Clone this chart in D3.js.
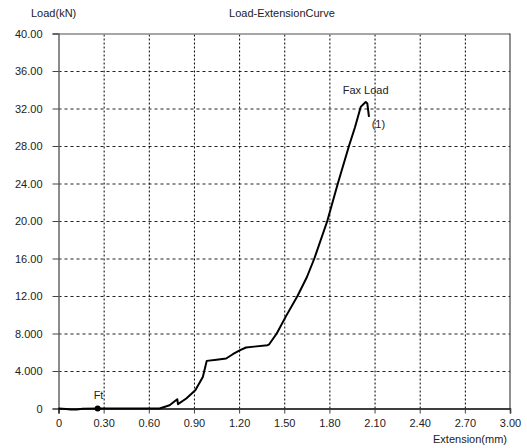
<!DOCTYPE html>
<html>
<head>
<meta charset="utf-8">
<script src="https://cdn.jsdelivr.net/npm/d3@7"></script>
<style>
  body { margin: 0; background: #fff; }
  svg text { font-family: "Liberation Sans", Arial, sans-serif; font-size: 11px; fill: #222; }
</style>
</head>
<body>
<svg id="chart" width="527" height="448"></svg>
<script>
// extension (mm) and load (kN)
const extension = [0, 0.05, 0.08, 0.12, 0.16, 0.26, 0.50, 0.672, 0.738, 0.789, 0.794, 0.849, 0.909, 0.959, 0.985,
  1.05, 1.114, 1.158, 1.207, 1.246, 1.30, 1.389, 1.40, 1.45, 1.51, 1.588, 1.65, 1.70, 1.786, 1.856,
  1.93, 1.97, 2.008, 2.041, 2.052, 2.063];
const load = [0, -0.05, -0.1, -0.1, -0.02, 0, 0, 0, 0.35, 0.99, 0.46, 1.07, 1.95, 3.37, 5.08,
  5.2, 5.33, 5.79, 6.22, 6.51, 6.6, 6.75, 6.85, 8.0, 9.8, 12.0, 14.0, 16.0, 20.0, 24.0,
  28.0, 30.0, 32.17, 32.7, 32.53, 31.1];
const xTicks = [0, 0.3, 0.6, 0.9, 1.2, 1.5, 1.8, 2.1, 2.4, 2.7, 3.0];
const xTickLabels = ['0', '0.30', '0.60', '0.90', '1.20', '1.50', '1.80', '2.10', '2.40', '2.70', '3.00'];
const yTicks = [0, 4, 8, 12, 16, 20, 24, 28, 32, 36, 40];
const yTickLabels = ['0', '4.000', '8.000', '12.00', '16.00', '20.00', '24.00', '28.00', '32.00', '36.00', '40.00'];
const ftPoint = { ext: 0.26, load: 0 };
const maxPoint = { ext: 2.041, load: 32.7 };

const svg = d3.select('#chart');
const margin = { top: 33.5, right: 17, bottom: 39.5, left: 58.5 };
const width = +svg.attr('width');
const height = +svg.attr('height');
const innerWidth = width - margin.left - margin.right;
const innerHeight = height - margin.top - margin.bottom;

const g = svg.append('g')
  .attr('transform', `translate(${margin.left},${margin.top})`);

const x = d3.scaleLinear().domain([0, 3]).range([0, innerWidth]);
const y = d3.scaleLinear().domain([0, 40]).range([innerHeight, 0]);

// grid lines (dashed) built from axes
const hGrid = g.append('g')
  .call(d3.axisLeft(y).tickValues(yTicks.slice(1, -1)).tickSize(-innerWidth).tickFormat(''));
hGrid.select('.domain').remove();
hGrid.selectAll('.tick line')
  .attr('stroke', '#222').attr('stroke-width', 1).attr('stroke-dasharray', '3,3');

const vGrid = g.append('g')
  .attr('transform', `translate(0,${innerHeight})`)
  .call(d3.axisBottom(x).tickValues(xTicks.slice(1, -1)).tickSize(-innerHeight).tickFormat(''));
vGrid.select('.domain').remove();
vGrid.selectAll('.tick line')
  .attr('stroke', '#000').attr('stroke-width', 1).attr('stroke-dasharray', '2,2');

// frame: top and right
g.append('path')
  .attr('d', `M0,0.5H${innerWidth}`)
  .attr('fill', 'none').attr('stroke', '#888').attr('stroke-width', 1.5);
g.append('path')
  .attr('d', `M${innerWidth},0V${innerHeight}`)
  .attr('fill', 'none').attr('stroke', '#222').attr('stroke-width', 1);

// axes
const yAxis = g.append('g')
  .call(d3.axisLeft(y).tickValues(yTicks).tickSize(6).tickPadding(10)
    .tickFormat((d, i) => yTickLabels[i]));
yAxis.select('.domain').attr('stroke', '#666').attr('stroke-width', 1.5);
yAxis.selectAll('.tick line').attr('stroke', '#444');

const xAxis = g.append('g')
  .attr('transform', `translate(0,${innerHeight})`)
  .call(d3.axisBottom(x).tickValues(xTicks).tickSize(5).tickPadding(6)
    .tickFormat((d, i) => xTickLabels[i]));
xAxis.select('.domain').attr('stroke', '#000').attr('stroke-width', 1.5);
xAxis.selectAll('.tick line').attr('stroke', '#444');
svg.selectAll('.tick text')
  .style('font-family', '"Liberation Sans", Arial, sans-serif')
  .style('font-size', '11px');

// curve
const line = d3.line()
  .x((d, i) => x(extension[i]))
  .y(d => y(d));
g.append('path')
  .datum(load)
  .attr('d', line)
  .attr('fill', 'none')
  .attr('stroke', '#000')
  .attr('stroke-width', 2)
  .attr('stroke-linejoin', 'round');

// Ft marker
g.append('circle')
  .attr('cx', x(ftPoint.ext)).attr('cy', y(ftPoint.load)).attr('r', 3)
  .attr('fill', '#000');
g.append('text')
  .attr('x', x(ftPoint.ext) - 4).attr('y', y(ftPoint.load) - 10)
  .text('Ft');

// max load labels
g.append('text')
  .attr('x', x(maxPoint.ext)).attr('y', y(maxPoint.load) - 8)
  .attr('text-anchor', 'middle')
  .text('Fax Load');
g.append('text')
  .attr('x', x(maxPoint.ext) + 6).attr('y', y(maxPoint.load) + 26)
  .text('(1)');

// titles
svg.append('text').attr('x', 31).attr('y', 17).text('Load(kN)');
svg.append('text').attr('x', 282).attr('y', 17).attr('text-anchor', 'middle').text('Load-ExtensionCurve');
svg.append('text').attr('x', 507).attr('y', 443).attr('text-anchor', 'end').text('Extension(mm)');
</script>
</body>
</html>
